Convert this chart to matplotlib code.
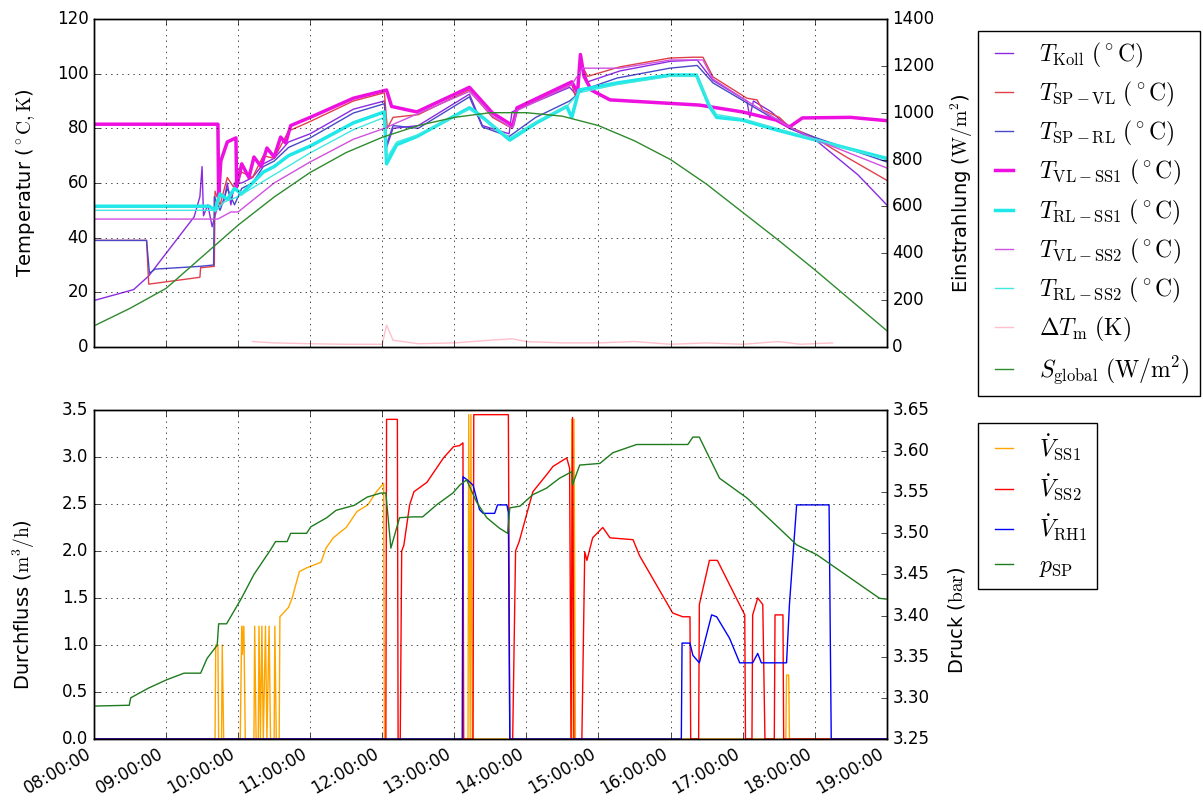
import matplotlib
matplotlib.use('Agg')
import matplotlib.pyplot as plt
import matplotlib.dates as mdates
import matplotlib.ticker as mticker
import numpy as np
import pandas as pd

# ---- data (hours after midnight) ----
h_koll = [8.0, 8.55, 8.76, 9.39, 9.47, 9.5, 9.52, 9.58, 9.64, 9.7, 9.8, 9.85, 9.9, 9.95,
          10.05, 10.2, 10.35, 10.5, 10.7, 11.0, 11.6, 12.03, 12.06, 12.15, 12.5, 13.21,
          13.39, 13.76, 13.8, 14.6, 14.7, 14.76, 14.85, 15.3, 16.0, 16.37, 16.59, 17.06,
          17.1, 17.15, 17.4, 17.65, 18.0, 18.6, 19.0]
T_koll = [17, 21, 26, 47.6, 55, 66, 48, 52, 44, 50, 53, 60, 52, 60,
          60, 62, 67, 69, 75, 78, 87, 90, 73, 80, 81, 92.5,
          81, 78, 86, 95, 92, 104, 97, 101, 104.5, 105, 97.5, 90,
          84, 90, 86, 80, 76, 63, 52]

h_sp_vl = [8.0, 8.73, 8.76, 9.47, 9.48, 9.67, 9.68, 9.75, 9.85, 9.95, 10.05, 10.2, 10.35,
           10.5, 10.7, 11.0, 11.6, 12.03, 12.07, 12.15, 12.5, 13.2, 13.4, 13.53, 13.8, 13.87,
           14.63, 14.7, 14.75, 14.85, 15.3, 15.99, 16.31, 16.45, 16.59, 17.06, 17.2, 17.28,
           17.51, 17.65, 17.97, 18.44, 19.0]
T_sp_vl = [39, 39, 23, 25.5, 29, 29.5, 57, 52, 62, 58, 64, 62, 70,
           69, 79, 82.5, 90, 93, 80, 84, 85, 94, 88, 84, 80, 87,
           96, 90, 104, 99, 102.5, 105.7, 106, 106, 98.8, 91, 90.4, 86.7,
           84, 80.5, 77, 69.5, 61]

h_sp_rl = [8.0, 8.73, 8.77, 8.85, 9.47, 9.66, 9.67, 9.75, 9.85, 9.95, 10.05, 10.2, 10.35,
           10.5, 10.7, 11.0, 11.6, 12.03, 12.06, 12.15, 12.5, 13.21, 13.39, 13.76, 14.13,
           14.6, 14.78, 15.26, 15.99, 16.37, 16.59, 17.06, 17.65, 17.97, 19.0]
T_sp_rl = [39, 39, 27, 28.5, 29.5, 30, 55, 50, 58, 52, 58, 60, 66,
           68, 73, 76.5, 85.6, 89, 74, 81, 80, 91.5, 80.5, 77, 84,
           90, 94, 98.4, 102, 103, 96.6, 89.3, 80, 77, 67.7]

h_vl_ss1 = [8.0, 9.72, 9.73, 9.76, 9.85, 9.97, 9.98, 10.05, 10.15, 10.22, 10.32, 10.40,
            10.50, 10.59, 10.66, 10.73, 11.0, 11.6, 12.06, 12.13, 12.48, 13.21, 13.53, 13.81,
            13.87, 14.63, 14.71, 14.75, 14.8, 14.9, 15.16, 16.4, 17.0, 17.47, 17.65, 17.83,
            18.5, 19.0]
T_vl_ss1 = [81.5, 81.5, 55, 68, 75, 76.5, 58.5, 67, 62, 69.5, 66, 72.8,
            69.5, 76.8, 74.6, 81, 84, 91, 94, 88, 86, 95, 85.6, 81,
            87.5, 97, 93, 107, 99, 94, 90.4, 88.5, 86, 83, 80.5, 83.8,
            84, 82.8]

h_rl_ss1 = [8.0, 9.6, 9.68, 9.75, 9.85, 9.95, 10.05, 10.2, 10.35, 10.5, 10.7, 11.0, 11.6,
            12.03, 12.06, 12.2, 12.48, 13.21, 13.3, 13.77, 14.14, 14.56, 14.63, 14.73, 15.26,
            15.99, 16.36, 16.54, 16.64, 17.0, 17.47, 19.0]
T_rl_ss1 = [51.5, 51.5, 50, 56, 54, 58, 56, 60, 64, 66, 70, 73.5, 82,
            86, 67, 74, 77, 87.5, 86, 75.7, 82, 88, 84, 94, 96.6,
            99.5, 99.5, 88, 84, 83, 79.4, 69]

h_vl_ss2 = [8.0, 9.72, 9.9, 10.0, 10.5, 11.0, 11.6, 12.03, 12.2, 13.21, 13.53, 13.81, 13.87,
            14.63, 14.78, 15.3, 16.0, 16.45, 16.59, 17.06, 17.65, 18.0, 19.0]
T_vl_ss2 = [46.8, 46.8, 49.4, 49.4, 60, 67.7, 76, 80, 82, 93.5, 84.5, 80, 86.5,
            96, 102, 102, 105, 105, 98, 90, 80.5, 76, 65.5]

h_rl_ss2 = [8.0, 9.7, 9.8, 10.0, 10.5, 11.0, 11.6, 12.03, 12.06, 12.2, 12.48, 13.21, 13.77,
            14.14, 14.56, 14.73, 15.26, 15.99, 16.36, 16.54, 16.64, 17.0, 17.47, 19.0]
T_rl_ss2 = [50, 50, 53, 55, 63, 71, 79.5, 84, 69, 75, 77.5, 87, 76.5,
            82.5, 88, 93, 96, 99, 99, 89, 85, 83.5, 80, 68.5]

h_dtm = [10.2, 10.5, 11.0, 11.5, 12.0, 12.06, 12.15, 12.5, 13.0, 13.5, 13.8, 14.0, 14.5,
         15.0, 15.5, 16.0, 16.5, 17.0, 17.5, 17.8, 18.25]
dT_m = [2, 1.5, 1.2, 1.0, 1.0, 8, 2.5, 1.2, 1.5, 2.5, 3, 2, 1.5,
        1.5, 2, 1, 1.5, 1, 2, 1, 1.5]

h_sol = [8.0, 8.5, 9.0, 9.5, 10.0, 10.5, 11.0, 11.5, 12.0, 12.5, 13.0, 13.5, 14.0, 14.5,
         15.0, 15.5, 16.0, 16.5, 17.0, 17.5, 18.0, 18.5, 19.0]
S_global = [90, 165, 250, 385, 520, 640, 745, 830, 895, 945, 980, 1000, 1000, 985,
            945, 880, 800, 695, 575, 455, 330, 200, 70]

h_v_ss1 = [8.0, 9.68, 9.69, 9.72, 9.73, 9.77, 9.78, 9.8, 10.03, 10.05, 10.06, 10.08, 10.1,
           10.22, 10.23, 10.25, 10.28, 10.29, 10.31, 10.33, 10.35, 10.38, 10.40, 10.43,
           10.45, 10.50, 10.51, 10.53, 10.57, 10.58, 10.7, 10.75, 10.85, 10.95, 11.15, 11.22,
           11.32, 11.5, 11.65, 11.8, 11.92, 12.02, 12.03, 13.19, 13.2, 13.22, 13.23, 13.25,
           14.62, 14.63, 14.65, 14.66, 14.68, 17.6, 17.61, 17.64, 17.65, 19.0]
V_ss1 = [0, 0, 1.0, 1.0, 0, 0, 1.0, 0, 0, 1.2, 0.9, 1.2, 0,
         0, 1.2, 0, 0, 1.2, 0, 1.2, 0, 1.2, 0, 1.2,
         0, 0, 1.2, 0, 0, 1.3, 1.4, 1.5, 1.78, 1.82, 1.88, 2.03,
         2.14, 2.25, 2.42, 2.49, 2.63, 2.72, 0, 0, 3.45, 0, 3.45, 0,
         0, 3.4, 0, 3.4, 0, 0, 0.68, 0.68, 0, 0]

h_v_ss2 = [8.0, 12.05, 12.06, 12.21, 12.22, 12.25, 12.27, 12.3, 12.38, 12.44, 12.62, 12.85,
           12.99, 13.07, 13.12, 13.13, 13.26, 13.27, 13.75, 13.77, 13.81, 13.85, 13.9, 14.09,
           14.28, 14.37, 14.56, 14.6, 14.62, 14.64, 14.66, 14.77, 14.81, 14.84, 14.92, 15.06,
           15.16, 15.48, 15.57, 16.03, 16.17, 16.27, 16.28, 16.39, 16.40, 16.54, 16.65, 16.82,
           17.03, 17.04, 17.13, 17.14, 17.21, 17.28, 17.31, 17.44, 17.45, 17.56, 17.57, 19.0]
V_ss2 = [0, 0, 3.4, 3.4, 0, 0, 2.0, 2.06, 2.49, 2.63, 2.73, 2.99,
         3.11, 3.12, 3.15, 0, 0, 3.45, 3.45, 0, 0, 2.0, 2.1, 2.63,
         2.81, 2.9, 2.99, 2.88, 0, 3.42, 0, 0, 1.99, 1.9, 2.14, 2.25,
         2.14, 2.12, 1.95, 1.34, 1.3, 1.3, 0, 0, 1.43, 1.9, 1.9, 1.64,
         1.32, 0, 0, 1.32, 1.5, 1.43, 0, 0, 1.32, 1.32, 0, 0]

h_v_rh1 = [8.0, 13.11, 13.12, 13.19, 13.26, 13.35, 13.4, 13.56, 13.6, 13.73, 13.75, 13.77,
           16.15, 16.16, 16.27, 16.31, 16.40, 16.44, 16.57, 16.64, 16.82, 16.96, 17.14, 17.21,
           17.26, 17.61, 17.65, 17.75, 18.2, 18.23, 19.0]
V_rh1 = [0, 0, 2.79, 2.75, 2.7, 2.44, 2.4, 2.4, 2.49, 2.49, 2.41, 0,
         0, 1.02, 1.02, 0.89, 0.81, 0.93, 1.32, 1.3, 1.07, 0.81, 0.81, 0.91,
         0.81, 0.81, 1.43, 2.49, 2.49, 0, 0]

h_p = [8.0, 8.49, 8.51, 8.76, 9.01, 9.25, 9.48, 9.57, 9.71, 9.73, 9.84, 10.04, 10.22, 10.45,
       10.52, 10.68, 10.73, 10.95, 11.01, 11.23, 11.36, 11.61, 11.79, 11.98, 12.05, 12.12,
       12.24, 12.42, 12.56, 12.76, 12.98, 13.08, 13.17, 13.31, 13.45, 13.63, 13.74, 13.77,
       13.91, 14.09, 14.28, 14.46, 14.63, 14.64, 14.74, 15.02, 15.2, 15.53, 16.24, 16.31,
       16.40, 16.50, 16.68, 17.06, 17.51, 17.75, 18.03, 18.44, 18.90, 19.0]
p_sp = [3.29, 3.291, 3.30, 3.312, 3.322, 3.33, 3.33, 3.348, 3.364, 3.39, 3.39, 3.42, 3.45, 3.48,
        3.49, 3.49, 3.50, 3.50, 3.508, 3.519, 3.528, 3.534, 3.544, 3.549, 3.549, 3.482,
        3.519, 3.52, 3.52, 3.535, 3.549, 3.559, 3.565, 3.538, 3.519, 3.506, 3.50, 3.531,
        3.533, 3.547, 3.555, 3.567, 3.575, 3.559, 3.583, 3.585, 3.598, 3.608, 3.608, 3.617,
        3.617, 3.599, 3.567, 3.543, 3.506, 3.486, 3.474, 3.449, 3.421, 3.42]

base = pd.Timestamp('2016-07-15')


def tt(h):
    return base + pd.to_timedelta(np.atleast_1d(np.asarray(h, dtype=float)), unit='h')


plt.style.use('classic')
plt.rcParams['figure.facecolor'] = 'white'
plt.rcParams['savefig.facecolor'] = 'white'
plt.rcParams['mathtext.fontset'] = 'cm'

fig = plt.figure(figsize=(12.03, 8.07), dpi=100)
ax1 = fig.add_axes([0.0781, 0.570, 0.659, 0.4065])
ax1b = ax1.twinx()
ax2 = fig.add_axes([0.0781, 0.0843, 0.659, 0.4077], sharex=ax1)
ax2b = ax2.twinx()

# top panel
l1, = ax1.plot(tt(h_koll), T_koll, color='blueviolet', lw=1,
               label=r'$T_{\mathrm{Koll}}\ (^\circ\mathrm{C})$')
l2, = ax1.plot(tt(h_sp_vl), T_sp_vl, color='#e0404a', lw=1,
               label=r'$T_{\mathrm{SP-VL}}\ (^\circ\mathrm{C})$')
l3, = ax1.plot(tt(h_sp_rl), T_sp_rl, color='#4848c8', lw=1,
               label=r'$T_{\mathrm{SP-RL}}\ (^\circ\mathrm{C})$')
l4, = ax1.plot(tt(h_vl_ss1), T_vl_ss1, color='#ee10e0', lw=2.5,
               label=r'$T_{\mathrm{VL-SS1}}\ (^\circ\mathrm{C})$')
l5, = ax1.plot(tt(h_rl_ss1), T_rl_ss1, color='#20e8e8', lw=2.5,
               label=r'$T_{\mathrm{RL-SS1}}\ (^\circ\mathrm{C})$')
l6, = ax1.plot(tt(h_vl_ss2), T_vl_ss2, color='#d050e0', lw=1,
               label=r'$T_{\mathrm{VL-SS2}}\ (^\circ\mathrm{C})$')
l7, = ax1.plot(tt(h_rl_ss2), T_rl_ss2, color='#40e8e0', lw=1,
               label=r'$T_{\mathrm{RL-SS2}}\ (^\circ\mathrm{C})$')
l8, = ax1.plot(tt(h_dtm), dT_m, color='pink', lw=1,
               label=r'$\Delta T_{\mathrm{m}}\ (\mathrm{K})$')
l9, = ax1b.plot(tt(h_sol), S_global, color='#2e8b2e', lw=1,
                label=r'$S_{\mathrm{global}}\ (\mathrm{W/m^2})$')

ax1.set_ylim(0, 120)
ax1.set_yticks(np.arange(0, 121, 20))
ax1b.set_ylim(0, 1400)
ax1b.set_yticks(np.arange(0, 1401, 200))
ax1.set_ylabel(r'Temperatur ($^\circ\mathrm{C}, \mathrm{K}$)', fontsize=14)
ax1b.set_ylabel(r'Einstrahlung ($\mathrm{W/m^2}$)', fontsize=14)
ax1.yaxis.set_label_coords(-0.072, 0.5)
ax1b.yaxis.set_label_coords(1.078, 0.47)
ax1.grid(True)
plt.setp(ax1.get_xticklabels(), visible=False)

# bottom panel
m1, = ax2.plot(tt(h_v_ss1), V_ss1, color='orange', lw=1, label=r'$\dot{V}_{\mathrm{SS1}}$')
m2, = ax2.plot(tt(h_v_ss2), V_ss2, color='red', lw=1, label=r'$\dot{V}_{\mathrm{SS2}}$')
m3, = ax2.plot(tt(h_v_rh1), V_rh1, color='blue', lw=1, label=r'$\dot{V}_{\mathrm{RH1}}$')
m4, = ax2b.plot(tt(h_p), p_sp, color='#1e7b1e', lw=1, label=r'$p_{\mathrm{SP}}$')

ax2.set_ylim(0, 3.5)
ax2.set_yticks(np.arange(0, 3.51, 0.5))
ax2.yaxis.set_major_formatter(mticker.FormatStrFormatter('%.1f'))
ax2b.set_ylim(3.25, 3.65)
ax2b.set_yticks(np.arange(3.25, 3.651, 0.05))
ax2b.yaxis.set_major_formatter(mticker.FormatStrFormatter('%.2f'))
ax2.set_ylabel(r'Durchfluss ($\mathrm{m^3/h}$)', fontsize=14)
ax2b.set_ylabel(r'Druck ($\mathrm{bar}$)', fontsize=14)
ax2.yaxis.set_label_coords(-0.072, 0.41)
ax2b.yaxis.set_label_coords(1.075, 0.36)
ax2.grid(True)

ax2.set_xlim(tt(8.0)[0], tt(19.0)[0])
ax2.xaxis.set_major_locator(mdates.HourLocator())
ax2.xaxis.set_major_formatter(mdates.DateFormatter('%H:%M:%S'))
plt.setp(ax2.get_xticklabels(), rotation=30, ha='right')

for a in (ax1, ax1b, ax2, ax2b):
    a.tick_params(labelsize=12)

leg_kw = dict(loc='upper left', fontsize=17, handlelength=1.4, handletextpad=0.8,
              borderaxespad=0, labelspacing=0.43)
fig.legend([l1, l2, l3, l4, l5, l6, l7, l8, l9],
           [l.get_label() for l in (l1, l2, l3, l4, l5, l6, l7, l8, l9)],
           bbox_to_anchor=(0.813, 0.9616), **leg_kw)
fig.legend([m1, m2, m3, m4], [m.get_label() for m in (m1, m2, m3, m4)],
           bbox_to_anchor=(0.813, 0.4758), **leg_kw)

fig.savefig('out.png', dpi=100)
